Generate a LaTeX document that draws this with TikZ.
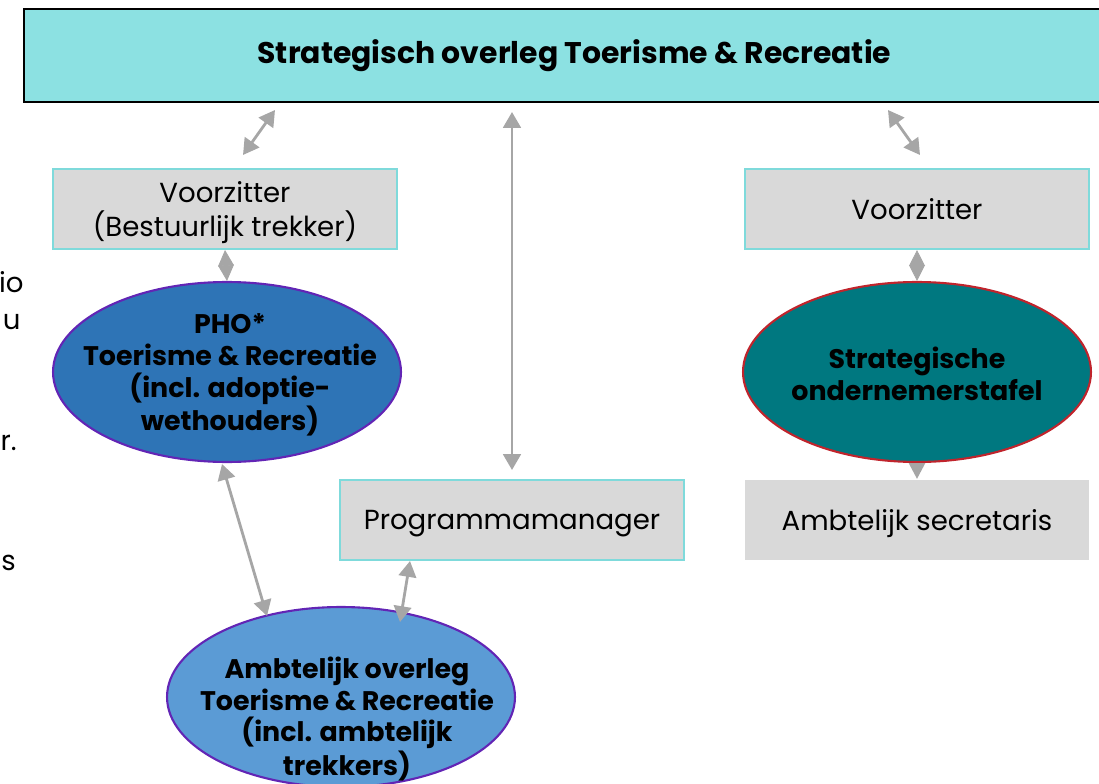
\documentclass[tikz,border=0pt]{standalone}
\usepackage{fontspec}
\setmainfont{Poppins}
\usetikzlibrary{arrows.meta,shapes.geometric}
\definecolor{topcyan}{HTML}{8CE1E2}
\definecolor{boxline}{HTML}{7FDADB}
\definecolor{boxgray}{HTML}{D9D9D9}
\definecolor{phoblue}{HTML}{2E74B6}
\definecolor{ambblue}{HTML}{5B9BD5}
\definecolor{tealfill}{HTML}{007880}
\definecolor{ovalpurple}{HTML}{6225B5}
\definecolor{ovalred}{HTML}{C0242C}
\definecolor{arrowgray}{HTML}{A6A6A6}
\begin{document}
\begin{tikzpicture}
    [x=0.02cm,y=-0.02cm,
    graybox/.style={draw=boxline,line width=1.2pt,fill=boxgray,minimum width=6.88cm,minimum height=1.6cm,align=center,text depth=0pt,font=\fontsize{15.7}{19}\selectfont},
    oval/.style={ellipse,draw=ovalpurple,line width=1.2pt,minimum width=6.96cm,minimum height=3.6cm,inner sep=0pt},
    ovaltext/.style={align=center,inner sep=0pt,font=\fontsize{15.3}{18}\selectfont\bfseries},
    link/.style={arrowgray,line width=1.6pt,{Triangle[length=9pt,width=10pt]}-{Triangle[length=9pt,width=10pt]}},
    diamondlink/.style={arrowgray,{Triangle[length=9pt,width=9pt]}-{Triangle[length=9pt,width=9pt]}}]
    \useasboundingbox (0,0) rectangle (1099,784);
    %top
    \node[draw=black,line width=1.2pt,fill=topcyan,minimum width=21.7cm,minimum height=1.86cm,anchor=north west,font=\fontsize{17}{20}\selectfont\bfseries] (overleg) at (23,8) {\hspace{0.32cm}Strategisch overleg Toerisme \& Recreatie};
    %left column
    \node[graybox] (vzleft) at (225,209) {Voorzitter\\(Bestuurlijk trekker)};
    \node[oval,fill=phoblue] (pho) at (227,372) {};
    \node[ovaltext] (photext) at (230,375) {PHO*\\Toerisme \& Recreatie\\(incl. adoptie-\\wethouders)};
    \node[graybox] (pm) at (512,520) {Programmamanager};
    \node[oval,fill=ambblue] (ao) at (341,697) {};
    \node[ovaltext] (aotext) at (347,719) {Ambtelijk overleg\\Toerisme \& Recreatie\\(incl. ambtelijk\\trekkers)};
    %right column
    \node[graybox] (vzright) at (917,209) {Voorzitter};
    \node[oval,fill=tealfill,draw=ovalred] (sot) at (917,372) {};
    \node[ovaltext] (sottext) at (917,374) {Strategische\\ondernemerstafel};
    \node[graybox,draw=none] (sec) at (917,520) {Ambtelijk secretaris};
    %cut text at the left edge
    \begin{scope}[font=\fontsize{15.7}{19}\selectfont,inner sep=0pt]
    \node[anchor=east] (t1) at (24,282) {io};
    \node[anchor=east] (t2) at (21,322) {u};
    \node[anchor=east] (t3) at (17,443) {r.};
    \node[anchor=east] (t4) at (16,563) {s};
    \end{scope}
    %arrows
    \coordinate (a1) at (275,110);
    \coordinate (a2) at (243,155);
    \coordinate (b1) at (888,110);
    \coordinate (b2) at (920,155);
    \coordinate (c1) at (512,112);
    \coordinate (c2) at (512,470);
    \draw[link] (a1) -- (a2);
    \draw[link] (b1) -- (b2);
    \draw[link] (c1) -- (c2);
    \draw[diamondlink] (vzleft.south) -- (pho.north);
    \draw[diamondlink] (vzright.south) -- (sot.north);
    \draw[arrowgray,line width=1.6pt,-{Triangle[length=9pt,width=9pt]}] (sot.south) -- (sec.north);
    \draw[link] (222,464) -- (267,616);
    \draw[link] (pm.south -| 410,0) -- (400,622);
\end{tikzpicture}
\end{document}
